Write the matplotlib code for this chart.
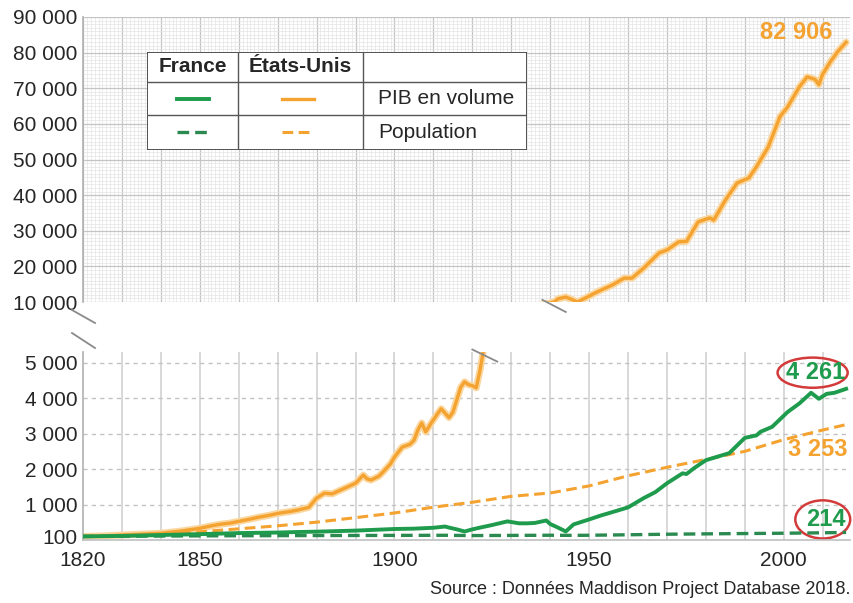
import matplotlib.pyplot as plt
from matplotlib.lines import Line2D
from matplotlib.patches import Ellipse, Rectangle
from matplotlib.ticker import MultipleLocator

# ----------------------------
# Data (index, 1820 = 100)
# ----------------------------
us_gdp_years = [1820, 1825, 1830, 1835, 1840, 1845, 1850, 1853, 1855, 1858,
                1860, 1863, 1865, 1868, 1870, 1873, 1875, 1878, 1880, 1882,
                1884, 1885, 1887, 1890, 1892, 1893, 1894, 1896, 1897, 1899,
                1900, 1902, 1904, 1905, 1906, 1907, 1908, 1910, 1911, 1912,
                1914, 1915, 1916, 1917, 1918, 1919, 1920, 1921, 1922, 1923,
                1941, 1942, 1944, 1946, 1947, 1949, 1952, 1956, 1959, 1961,
                1964, 1968, 1970, 1973, 1975, 1978, 1981, 1982, 1985, 1988,
                1991, 1993, 1996, 1999, 2001, 2004, 2006, 2008, 2009, 2010,
                2012, 2014, 2016]
us_gdp = [100, 115, 140, 165, 190, 250, 330, 400, 440, 480,
          525, 590, 640, 700, 750, 800, 840, 920, 1180, 1320,
          1300, 1350, 1450, 1600, 1830, 1720, 1690, 1800, 1910, 2150,
          2340, 2620, 2700, 2810, 3100, 3300, 3050, 3390, 3550, 3700,
          3450, 3600, 3950, 4300, 4460, 4380, 4350, 4290, 4800, 5450,
          10000, 10900, 11400, 10500, 10000, 11100, 12800, 14800, 16700, 16700,
          19500, 23800, 24600, 26900, 27000, 32500, 33600, 33000, 38600, 43400,
          44800, 48000, 53500, 62000, 64800, 70400, 73200, 72500, 71000, 74000,
          77500, 80500, 82906]

us_pop_years = [1820, 1830, 1840, 1850, 1860, 1870, 1880, 1890, 1900, 1910,
                1920, 1930, 1940, 1950, 1960, 1970, 1980, 1990, 2000, 2010, 2016]
us_pop = [100, 129, 171, 232, 315, 400, 503, 630, 762, 925,
          1064, 1231, 1325, 1525, 1810, 2050, 2270, 2500, 2830, 3100, 3253]

fr_gdp_years = [1820, 1830, 1840, 1850, 1860, 1870, 1875, 1880, 1890, 1900,
                1905, 1910, 1913, 1914, 1916, 1918, 1920, 1922, 1925, 1929,
                1932, 1934, 1936, 1939, 1940, 1942, 1944, 1946, 1950, 1953,
                1957, 1960, 1964, 1967, 1970, 1974, 1975, 1977, 1980, 1983,
                1986, 1990, 1993, 1994, 1997, 2001, 2004, 2007, 2009, 2011,
                2013, 2016]
fr_gdp = [100, 115, 140, 165, 195, 210, 225, 235, 265, 310,
          320, 345, 380, 350, 300, 240, 300, 350, 420, 525,
          470, 470, 480, 550, 450, 350, 240, 440, 580, 690,
          820, 920, 1180, 1350, 1600, 1880, 1860, 2030, 2250, 2350,
          2450, 2880, 2950, 3050, 3190, 3610, 3850, 4150, 3980, 4120,
          4150, 4261]

fr_pop_years = [1820, 1850, 1870, 1900, 1913, 1920, 1940, 1946, 1950, 1960,
                1970, 1980, 1990, 2000, 2010, 2016]
fr_pop = [100, 117, 123, 130, 133, 125, 134, 130, 134, 147,
          163, 173, 182, 191, 203, 214]

top_ticks = [10000, 20000, 30000, 40000, 50000, 60000, 70000, 80000, 90000]
bottom_ticks = [100, 1000, 2000, 3000, 4000, 5000]
x_ticks = [1820, 1850, 1900, 1950, 2000]


def fmt(v):
    return f"{v:,}".replace(",", " ")


ORANGE = '#F4A230'
ORANGE_GLOW = '#FBD7A0'
GREEN = '#1E9B4C'
GREEN_D = '#2A8A50'
TXT = '#262626'
W, H = 854, 603

plt.rcParams['font.family'] = ['Liberation Sans', 'DejaVu Sans']

fig = plt.figure(figsize=(8.54, 6.03), dpi=100)


def fx(x):
    return x / W


def fy(y):
    return 1 - y / H


ax_top = fig.add_axes([fx(83), fy(302), fx(850) - fx(83), fy(17) - fy(302)])
ax_bot = fig.add_axes([fx(83), fy(540), fx(850) - fx(83), fy(352) - fy(540)])

for ax in (ax_top, ax_bot):
    ax.set_xlim(1820, 2017)
    for s in ('top', 'right'):
        ax.spines[s].set_visible(False)
    ax.spines['left'].set_color('#b0b0b0')
    ax.spines['left'].set_linewidth(1.2)
    ax.tick_params(length=0, labelsize=15, labelcolor=TXT, pad=4)
    ax.set_axisbelow(True)

# ---- top panel: graph paper grid
ax_top.set_ylim(10000, 90000)
ax_top.set_yticks(top_ticks)
ax_top.set_yticklabels([fmt(v) for v in top_ticks])
ax_top.set_xticks([])
ax_top.xaxis.set_major_locator(MultipleLocator(10))
ax_top.xaxis.set_minor_locator(MultipleLocator(1))
ax_top.yaxis.set_minor_locator(MultipleLocator(1000))
ax_top.tick_params(axis='x', labelbottom=False)
ax_top.tick_params(which='minor', length=0)
ax_top.grid(which='major', color='#c4c4c4', lw=0.9)
ax_top.grid(which='minor', color='#e4e4e4', lw=0.5)
ax_top.spines['bottom'].set_visible(False)

# ---- bottom panel
ax_bot.set_ylim(0, 5300)
ax_bot.set_yticks(bottom_ticks)
ax_bot.set_yticklabels([fmt(v) for v in bottom_ticks])
ax_bot.set_xticks(x_ticks)
ax_bot.set_xticklabels([str(v) for v in x_ticks])
ax_bot.tick_params(axis='x', pad=8)
for yr in range(1830, 2017, 10):
    ax_bot.axvline(yr, color='#d6d6d6', lw=1.3, zorder=0)
for v in bottom_ticks[1:]:
    ax_bot.axhline(v, color='#c2c2c2', lw=1.0, dashes=(3, 3), zorder=0)
ax_bot.spines['bottom'].set_color('#c0c0c0')
ax_bot.spines['bottom'].set_linewidth(1.2)

# ---- series
for ax in (ax_top, ax_bot):
    ax.plot(us_gdp_years, us_gdp, color=ORANGE_GLOW, lw=5, solid_capstyle='round', zorder=2)
    ax.plot(us_gdp_years, us_gdp, color=ORANGE, lw=2.4, zorder=3)
ax_bot.plot(us_pop_years, us_pop, color=ORANGE, lw=2.2, dashes=(3.5, 1.8), zorder=3)
ax_bot.plot(fr_pop_years, fr_pop, color=GREEN_D, lw=2.4, dashes=(3.5, 1.8), zorder=3)
ax_bot.plot(fr_gdp_years, fr_gdp, color=GREEN, lw=2.8, zorder=4)

# break marks where the US line leaves / re-enters
ax_bot.plot([1920, 1926.4], [5370, 5030], color='#8a8a8a', lw=1.3, clip_on=False, zorder=5)
ax_top.plot([1938, 1944], [10600, 7200], color='#8a8a8a', lw=1.3, clip_on=False, zorder=5)

# axis break on the left spine
for y0, y1 in ((310, 323), (333, 348)):
    fig.add_artist(Line2D([fx(72), fx(95)], [fy(y0), fy(y1)], color='#8a8a8a', lw=1.3))

# ---- value labels
lab = dict(fontsize=17, fontweight='bold', ha='center', va='center',
           family=['Liberation Sans Narrow', 'Liberation Sans', 'DejaVu Sans'], clip_on=False)
ax_top.text(2003.3, 85600, fmt(us_gdp[-1]), color=ORANGE, **lab)
ax_bot.text(2008.2, 4717, fmt(fr_gdp[-1]), color=GREEN, **lab)
ax_bot.text(2008.7, 2564, fmt(us_pop[-1]), color=ORANGE, **lab)
ax_bot.text(2010.8, 580, fmt(fr_pop[-1]), color=GREEN, **lab)
ax_bot.add_patch(Ellipse((2007.4, 4717), 18, 850, fill=False, ec='#D33B3B', lw=1.8, clip_on=False))
ax_bot.add_patch(Ellipse((2010.0, 580), 14.1, 1076, fill=False, ec='#D33B3B', lw=1.8, clip_on=False))

# ---- legend table
lg = fig.add_axes([fx(147), fy(150), fx(527) - fx(147), fy(52) - fy(150)])
lg.set_xlim(0, 380)
lg.set_ylim(98, 0)
lg.axis('off')
lg.add_patch(Rectangle((0, 0), 380, 98, fc='white', ec='#444444', lw=1.3))
for yy in (30, 63):
    lg.plot([0, 380], [yy, yy], color='#555555', lw=1.0)
for xx in (91, 216):
    lg.plot([xx, xx], [0, 98], color='#555555', lw=1.0)
lg.text(45.5, 15, 'France', fontsize=15, fontweight='bold', ha='center', va='center', color=TXT)
lg.text(153.5, 15, 'États-Unis', fontsize=15, fontweight='bold', ha='center', va='center', color=TXT)
lg.text(231, 46.5, 'PIB en volume', fontsize=15, ha='left', va='center', color=TXT)
lg.text(231, 80, 'Population', fontsize=15, ha='left', va='center', color=TXT)
lg.plot([30, 62], [46.5, 46.5], color=GREEN, lw=2.8)
lg.plot([135, 167], [46.5, 46.5], color=ORANGE, lw=2.4)
lg.plot([30, 62], [80, 80], color=GREEN_D, lw=2.4, dashes=(3.5, 1.8))
lg.plot([135, 167], [80, 80], color=ORANGE, lw=2.2, dashes=(3.5, 1.8))

fig.text(fx(850), fy(590), 'Source : Données Maddison Project Database 2018.',
         fontsize=13, ha='right', va='center', color=TXT)

fig.savefig('out.png', dpi=100)
